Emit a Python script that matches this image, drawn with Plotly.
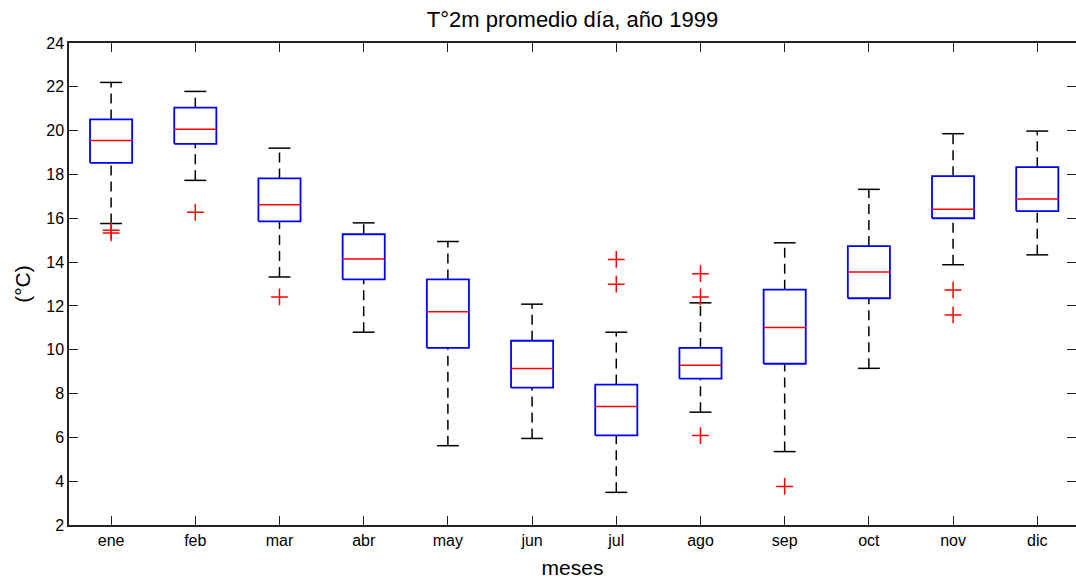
import plotly.graph_objects as go

# Daily mean 2 m temperature, 1999 — per-month box statistics (°C)
months = ["ene", "feb", "mar", "abr", "may", "jun", "jul", "ago", "sep", "oct", "nov", "dic"]
q1 = [18.53, 19.40, 15.86, 13.21, 10.08, 8.27, 6.09, 8.68, 9.36, 12.35, 16.00, 16.33]
median = [19.55, 20.06, 16.62, 14.14, 11.73, 9.14, 7.41, 9.29, 11.01, 13.55, 16.41, 16.88]
q3 = [20.51, 21.05, 17.82, 15.27, 13.21, 10.41, 8.41, 10.08, 12.74, 14.73, 17.92, 18.33]
whisker_low = [15.76, 17.73, 13.32, 10.80, 5.62, 5.95, 3.49, 7.15, 5.35, 9.15, 13.88, 14.33]
whisker_high = [22.20, 21.79, 19.20, 15.79, 14.94, 12.08, 10.80, 12.14, 14.88, 17.32, 19.86, 19.98]
outliers = {
    "ene": [15.45, 15.33],
    "feb": [16.27],
    "mar": [12.41],
    "jul": [14.12, 12.99],
    "ago": [13.47, 12.41, 6.08],
    "sep": [3.76],
    "nov": [12.73, 11.59],
}
y_ticks = [2, 4, 6, 8, 10, 12, 14, 16, 18, 20, 22, 24]

pos = list(range(1, len(months) + 1))
BOX_HALF = 0.25
CAP_HALF = 0.13
FONT = "Liberation Sans, Arial, sans-serif"

fig = go.Figure()

# dashed whiskers
wx, wy = [], []
for p, lo, a, b, hi in zip(pos, whisker_low, q1, q3, whisker_high):
    wx += [p, p, None, p, p, None]
    wy += [b, hi, None, lo, a, None]
fig.add_trace(go.Scatter(x=wx, y=wy, mode="lines", hoverinfo="skip",
                         line=dict(color="black", width=1.5, dash="10px,6px")))

# whisker caps
cx, cy = [], []
for p, lo, hi in zip(pos, whisker_low, whisker_high):
    cx += [p - CAP_HALF, p + CAP_HALF, None, p - CAP_HALF, p + CAP_HALF, None]
    cy += [hi, hi, None, lo, lo, None]
fig.add_trace(go.Scatter(x=cx, y=cy, mode="lines", hoverinfo="skip",
                         line=dict(color="black", width=1.5)))

# boxes
bx, by = [], []
for p, a, b in zip(pos, q1, q3):
    bx += [p - BOX_HALF, p + BOX_HALF, p + BOX_HALF, p - BOX_HALF, p - BOX_HALF, None]
    by += [a, a, b, b, a, None]
fig.add_trace(go.Scatter(x=bx, y=by, mode="lines", hoverinfo="skip",
                         line=dict(color="#0000ff", width=1.8)))

# medians
mx, my = [], []
for p, m in zip(pos, median):
    mx += [p - BOX_HALF, p + BOX_HALF, None]
    my += [m, m, None]
fig.add_trace(go.Scatter(x=mx, y=my, mode="lines", hoverinfo="skip",
                         line=dict(color="#ff0000", width=1.5)))

# outliers
ox, oy = [], []
for name, vals in outliers.items():
    p = pos[months.index(name)]
    for v in vals:
        ox.append(p)
        oy.append(v)
fig.add_trace(go.Scatter(x=ox, y=oy, mode="markers", hoverinfo="skip",
                         marker=dict(symbol="cross-thin", size=12,
                                     line=dict(color="#ff0000", width=1.5))))

# empty trace so the right-hand tick axis is rendered
fig.add_trace(go.Scatter(x=[None], y=[None], yaxis="y2", hoverinfo="skip", showlegend=False))

tick_font = dict(family=FONT, size=16, color="black")
label_font = dict(family=FONT, size=21, color="black")

fig.update_layout(
    width=1076, height=582,
    margin=dict(l=69, r=0, t=43, b=57),
    paper_bgcolor="white", plot_bgcolor="white",
    showlegend=False,
    title=dict(text="T°2m promedio día, año 1999", xref="paper", x=0.5, xanchor="center",
               yref="container", y=0.966, yanchor="middle",
               font=dict(family=FONT, size=22, color="black")),
    font=tick_font,
    yaxis2=dict(overlaying="y", side="right", range=[2, 24], tickmode="array",
                tickvals=y_ticks, showticklabels=False, ticks="inside", ticklen=9,
                tickwidth=1.2, tickcolor="#222", showline=False, showgrid=False,
                zeroline=False),
)
fig.update_xaxes(
    range=[0.5, 12.46], tickmode="array", tickvals=pos, ticktext=months,
    ticks="inside", ticklen=9, tickwidth=1.2, tickcolor="#222",
    showline=True, linecolor="#222", linewidth=1.5, mirror="ticks",
    showgrid=False, zeroline=False, tickfont=tick_font,
    title=dict(text="meses", standoff=12, font=label_font),
)
fig.update_yaxes(
    selector=dict(overlaying=None),
    range=[2, 24], tickmode="array", tickvals=y_ticks,
    ticks="inside", ticklen=9, tickwidth=1.2, tickcolor="#222",
    showline=True, linecolor="#222", linewidth=1.5, mirror=False,
    showgrid=False, zeroline=False, tickfont=tick_font,
    title=dict(text="(°C)", standoff=10, font=label_font),
)

fig.write_html("out.html")
